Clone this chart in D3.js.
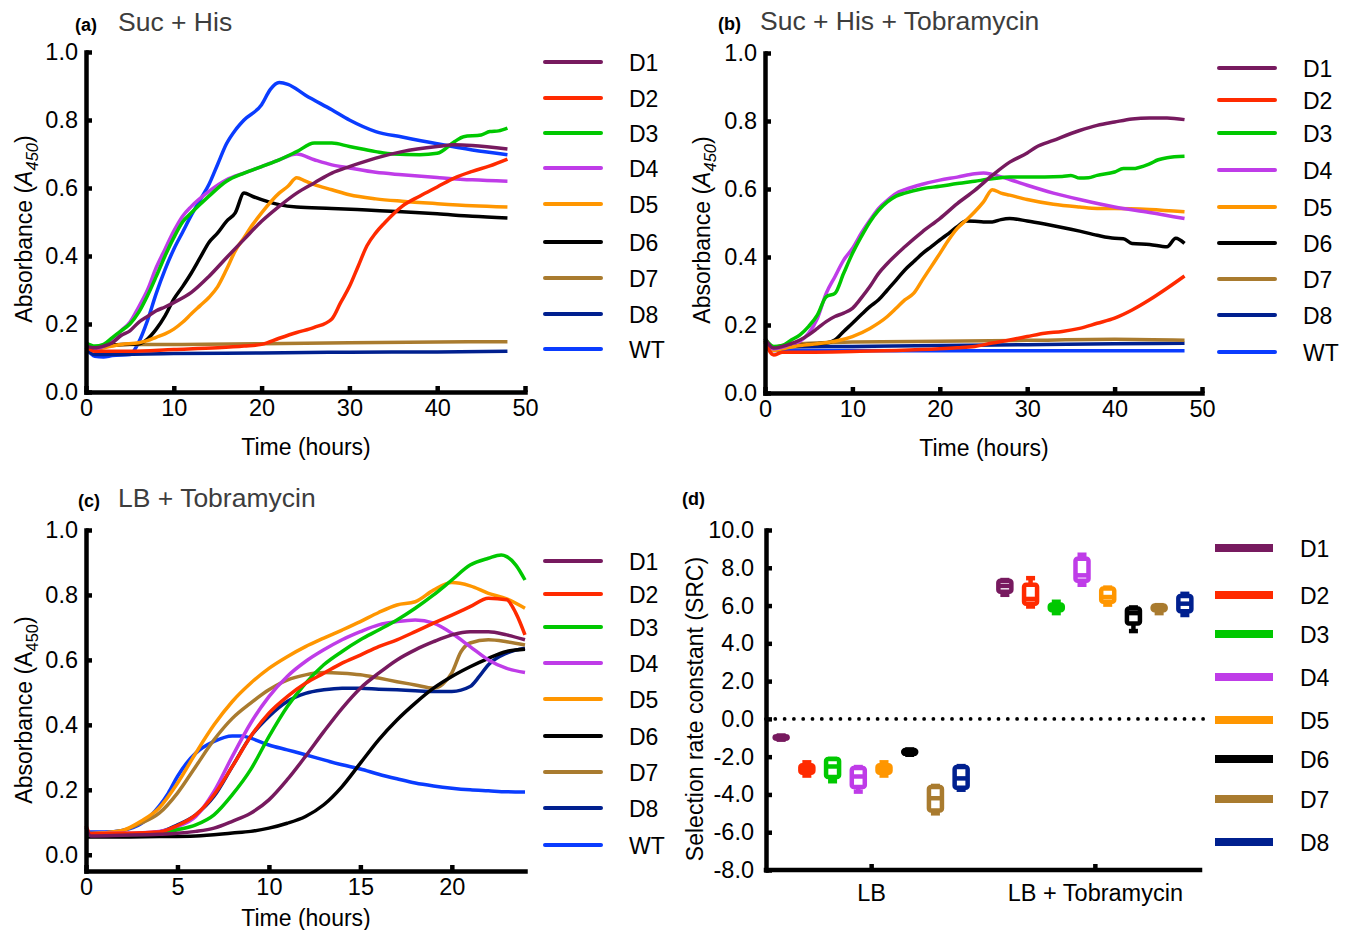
<!DOCTYPE html>
<html>
<head>
<meta charset="utf-8">
<script src="https://cdn.jsdelivr.net/npm/d3@7"></script>
<style>
  body { margin: 0; background: #fff; }
  svg { font-family: "Liberation Sans", Arial, sans-serif; }
</style>
</head>
<body>
<svg id="fig" width="1349" height="930"></svg>
<script>
// strains, in legend order
const strains = ["D1", "D2", "D3", "D4", "D5", "D6", "D7", "D8", "WT"];
const colors = ["#771a5f", "#ff2a00", "#00c800", "#bf3ce8", "#ff9600", "#000000", "#a97b2f", "#00208f", "#0a3cff"];

// (a) Suc + His : [hours, A450] per strain
const sucHis = [
  [[0,.135],[1,.13],[2,.135],[3,.145],[4,.166],[5,.18],[6,.205],[7,.222],[8,.239],[9,.25],[10,.263],[12,.293],[14,.34],[16,.395],[18,.449],[20,.502],[22,.546],[24,.585],[26,.615],[28,.644],[30,.663],[33,.688],[36,.707],[40,.722],[42,.727],[44,.725],[48,.715]],
  [[0,.135],[1,.12],[2,.12],[5,.12],[10,.125],[15,.13],[18,.135],[20,.14],[22,.158],[24,.175],[26,.19],[28,.215],[29,.263],[30,.31],[31,.37],[32,.43],[33,.468],[34,.497],[36,.546],[38,.576],[40,.603],[42,.63],[44,.649],[46,.665],[48,.685]],
  [[0,.145],[1,.135],[2,.14],[3,.16],[4,.18],[5,.2],[6,.234],[7,.283],[8,.34],[9,.4],[10,.454],[11,.5],[12,.527],[14,.576],[16,.62],[18,.644],[20,.663],[22,.683],[24,.707],[26,.732],[28,.732],[30,.722],[33,.707],[35,.7],[38,.698],[40,.702],[42,.737],[43,.751],[45,.756],[46,.766],[47,.768],[48,.776]],
  [[0,.14],[1,.125],[2,.135],[3,.15],[4,.18],[5,.205],[6,.25],[7,.3],[8,.366],[9,.42],[10,.473],[11,.517],[12,.546],[14,.59],[16,.624],[18,.644],[20,.663],[22,.683],[24,.7],[26,.683],[28,.668],[30,.659],[33,.646],[36,.639],[40,.631],[44,.624],[48,.62]],
  [[0,.13],[1,.125],[2,.13],[4,.14],[6,.145],[7,.151],[8,.161],[9,.171],[10,.185],[11,.205],[12,.23],[13,.254],[14,.278],[15,.31],[16,.36],[17,.415],[18,.454],[19,.493],[20,.527],[22,.585],[23,.605],[24,.63],[25,.62],[26,.61],[28,.595],[30,.58],[33,.568],[36,.561],[40,.554],[44,.548],[48,.544]],
  [[0,.14],[1,.13],[2,.135],[4,.14],[6,.141],[7,.156],[8,.185],[9,.224],[10,.273],[11,.31],[12,.35],[13,.395],[14,.44],[15,.468],[16,.502],[17,.527],[18,.585],[19,.575],[20,.566],[22,.551],[24,.544],[28,.54],[32,.535],[36,.53],[40,.524],[44,.517],[48,.512]],
  [[0,.14],[1,.13],[2,.135],[5,.14],[10,.14],[20,.142],[30,.145],[40,.147],[48,.148]],
  [[0,.125],[1,.11],[2,.11],[10,.113],[20,.115],[30,.117],[40,.118],[48,.12]],
  [[0,.13],[1,.105],[2,.103],[3,.107],[5,.11],[6,.146],[7,.21],[8,.29],[9,.36],[10,.42],[11,.47],[12,.52],[13,.565],[14,.61],[15,.67],[16,.73],[17,.77],[18,.8],[20,.845],[21,.89],[22,.91],[23,.905],[25,.873],[28,.83],[30,.8],[33,.766],[36,.75],[40,.73],[44,.712],[48,.698]]
];

// (b) Suc + His + Tobramycin
const sucHisTob = [
  [[0,.16],[1,.132],[2,.137],[3,.145],[4,.156],[5,.171],[6,.19],[7,.21],[8,.225],[9,.235],[10,.249],[11,.279],[12,.313],[13,.352],[14,.381],[16,.43],[18,.474],[20,.513],[22,.557],[24,.596],[26,.64],[28,.679],[30,.706],[31,.723],[33,.743],[36,.772],[38,.787],[40,.797],[42,.806],[44,.809],[46,.809],[48,.804]],
  [[0,.15],[1,.112],[2,.12],[5,.12],[10,.122],[15,.125],[20,.13],[22,.133],[24,.137],[26,.147],[28,.156],[30,.166],[32,.176],[34,.181],[36,.19],[38,.205],[40,.22],[42,.244],[44,.274],[46,.308],[48,.344]],
  [[0,.16],[1,.137],[2,.14],[3,.156],[4,.171],[5,.196],[6,.23],[7,.283],[8,.293],[9,.352],[10,.41],[11,.459],[12,.503],[13,.537],[14,.562],[15,.579],[16,.588],[18,.601],[20,.608],[22,.616],[24,.623],[26,.63],[28,.635],[30,.635],[34,.637],[35,.64],[36,.632],[37,.633],[38,.64],[40,.65],[41,.66],[42,.66],[44,.674],[45,.686],[46,.692],[48,.696]],
  [[0,.16],[1,.13],[2,.135],[3,.145],[4,.152],[5,.176],[6,.22],[7,.293],[8,.342],[9,.391],[10,.425],[11,.469],[12,.508],[13,.543],[14,.567],[15,.587],[16,.598],[18,.614],[20,.626],[22,.635],[24,.645],[25,.647],[26,.643],[28,.628],[30,.611],[33,.588],[36,.569],[40,.547],[44,.531],[48,.513]],
  [[0,.155],[1,.125],[2,.13],[4,.14],[6,.145],[8,.152],[10,.166],[12,.19],[14,.225],[15,.249],[16,.274],[17,.293],[18,.332],[19,.371],[20,.41],[21,.45],[22,.484],[23,.508],[24,.533],[25,.562],[26,.598],[27,.588],[28,.582],[30,.569],[33,.555],[36,.547],[38,.543],[40,.543],[44,.54],[48,.533]],
  [[0,.155],[1,.13],[2,.135],[4,.14],[6,.145],[7,.147],[8,.156],[9,.181],[10,.205],[11,.23],[12,.254],[13,.274],[14,.303],[15,.332],[16,.362],[17,.386],[18,.41],[19,.43],[20,.45],[21,.469],[22,.489],[23,.506],[24,.505],[25,.503],[26,.503],[27,.51],[28,.513],[30,.506],[32,.497],[34,.487],[36,.476],[38,.464],[40,.455],[41,.454],[42,.44],[44,.437],[46,.43],[47,.455],[48,.44]],
  [[0,.155],[1,.135],[2,.14],[4,.145],[10,.15],[20,.152],[30,.155],[40,.158],[48,.155]],
  [[0,.14],[1,.13],[2,.135],[10,.137],[20,.14],[30,.142],[40,.145],[48,.146]],
  [[0,.135],[1,.125],[2,.125],[10,.125],[20,.124],[30,.124],[48,.124]]
];

// (c) LB + Tobramycin
const lbTob = [
  [[0,.085],[0.25,.058],[2,.06],[4,.063],[5,.066],[6,.072],[7,.082],[8,.103],[9,.128],[10,.169],[11,.231],[12,.303],[13,.379],[14,.451],[15,.513],[16,.559],[17,.6],[18,.631],[19,.656],[20,.677],[21,.687],[22,.687],[23,.677],[24,.662]],
  [[0,.09],[0.25,.065],[2,.066],[4,.07],[5,.09],[6,.123],[7,.185],[8,.272],[9,.364],[10,.436],[11,.487],[12,.528],[13,.559],[14,.59],[15,.615],[16,.641],[17,.662],[18,.687],[19,.713],[20,.738],[21,.764],[22,.79],[23,.785],[23.5,.744],[24,.677]],
  [[0,.06],[2,.062],[4,.065],[5,.077],[6,.092],[7,.123],[8,.185],[9,.262],[10,.364],[11,.456],[12,.528],[13,.585],[14,.626],[15,.662],[16,.692],[17,.723],[18,.759],[19,.8],[20,.846],[21,.892],[22,.913],[22.7,.923],[23,.918],[23.5,.892],[24,.846]],
  [[0,.065],[2,.066],[4,.072],[5,.087],[6,.118],[7,.195],[8,.303],[9,.405],[10,.487],[11,.549],[12,.595],[13,.631],[14,.662],[15,.687],[16,.708],[17,.718],[18,.723],[19,.713],[20,.682],[21,.641],[22,.6],[23,.574],[24,.561]],
  [[0,.065],[1,.068],[2,.075],[3,.103],[4,.144],[5,.22],[6,.313],[7,.4],[8,.472],[9,.528],[10,.574],[11,.61],[12,.641],[13,.667],[14,.692],[15,.718],[16,.746],[17,.769],[18,.779],[19,.815],[20,.838],[21,.828],[22,.805],[23,.788],[24,.759]],
  [[0,.055],[2,.055],[4,.056],[6,.058],[8,.067],[9,.072],[10,.082],[11,.097],[12,.118],[13,.154],[14,.21],[15,.282],[16,.354],[17,.415],[18,.467],[19,.513],[20,.549],[21,.579],[22,.605],[23,.626],[24,.633]],
  [[0,.065],[1,.068],[2,.075],[3,.097],[4,.128],[5,.19],[6,.272],[7,.354],[8,.42],[9,.467],[10,.508],[11,.538],[12,.554],[13,.561],[14,.559],[15,.554],[16,.544],[17,.533],[18,.523],[19,.513],[19.5,.525],[20,.56],[20.5,.625],[21,.652],[22,.662],[23,.656],[24,.646]],
  [[0,.06],[2,.062],[4,.07],[5,.092],[6,.123],[7,.18],[8,.272],[9,.364],[10,.426],[11,.472],[12,.497],[13,.508],[14,.513],[15,.513],[16,.51],[17,.508],[18,.505],[19,.503],[20,.503],[21,.518],[21.5,.549],[22,.585],[23,.621],[24,.636]],
  [[0,.07],[1,.07],[2,.075],[3,.095],[4,.15],[4.5,.19],[5,.241],[5.5,.282],[6,.313],[7,.349],[8,.366],[8.5,.366],[9,.359],[10,.338],[11,.323],[12,.308],[13,.292],[14,.277],[15,.264],[16,.248],[17,.234],[18,.221],[19,.212],[20,.205],[21,.2],[22,.197],[23,.194],[24,.193]]
];

// (d) selection rate constant, [min, q1, median, q3, max] for D1..D8
const groups = ["LB", "LB + Tobramycin"];
const boxLB = [
  [-1.1, -1.05, -1.0, -0.92, -0.88],
  [-3.0, -2.85, -2.65, -2.45, -2.3],
  [-3.3, -3.07, -2.52, -2.12, -2.12],
  [-3.85, -3.6, -3.05, -2.6, -2.55],
  [-3.0, -2.85, -2.65, -2.45, -2.3],
  [-1.9, -1.85, -1.75, -1.65, -1.62],
  [-5.0, -4.85, -4.2, -3.6, -3.55],
  [-3.75, -3.65, -3.15, -2.55, -2.5]
];
const boxTob = [
  [6.57, 6.73, 7.04, 7.31, 7.35],
  [5.95, 6.1, 6.35, 7.1, 7.45],
  [5.6, 5.75, 5.9, 6.05, 6.2],
  [7.1, 7.31, 7.6, 8.48, 8.69],
  [6.05, 6.2, 6.45, 6.9, 6.95],
  [4.65, 5.05, 5.6, 5.85, 5.9],
  [5.6, 5.75, 5.85, 6.0, 6.02],
  [5.5, 5.7, 6.1, 6.5, 6.62]
];

const svg = d3.select("#fig");
const AXW = 4.5;

function styleAxis(sel) {
  sel.attr("font-size", null).attr("font-family", null);
  sel.selectAll("path, line").attr("stroke", "#000").attr("stroke-width", AXW);
  sel.select(".domain").attr("stroke-linecap", "square");
  sel.selectAll("text").attr("fill", "#000").style("font-size", "23.5px");
}

function heading(x, y, tag, title, gap) {
  const t = svg.append("text").attr("x", x).attr("y", y);
  t.append("tspan").attr("font-weight", "bold").attr("font-size", 18).text(tag);
  if (title) t.append("tspan").attr("dx", gap).attr("font-size", 26.5).attr("fill", "#3d3d3d").text(title);
}

function yTitle(x, y, italic) {
  const t = svg.append("text")
    .attr("transform", `translate(${x},${y}) rotate(-90)`)
    .attr("text-anchor", "middle").attr("font-size", 23);
  t.append("tspan").text("Absorbance (");
  t.append("tspan").attr("font-style", italic ? "italic" : null).text("A");
  t.append("tspan").attr("font-style", italic ? "italic" : null).attr("font-size", 16.5).attr("dy", 6).text("450");
  t.append("tspan").attr("dy", -6).text(")");
}

function linePanel(o) {
  const g = svg.append("g");
  const line = d3.line().x(d => o.x(d[0])).y(d => o.y(d[1])).curve(d3.curveMonotoneX);

  // draw WT first so D1 sits on top
  const order = d3.range(strains.length).reverse();
  g.selectAll("path.curve").data(order).join("path")
    .attr("class", "curve")
    .attr("d", i => line(o.data[i]))
    .attr("fill", "none")
    .attr("stroke", i => colors[i])
    .attr("stroke-width", 3.5)
    .attr("stroke-linejoin", "round");

  g.append("g")
    .attr("transform", `translate(0,${o.y.range()[0]})`)
    .call(d3.axisBottom(o.x).tickValues(o.xTicks).tickSize(-6).tickSizeOuter(0).tickPadding(7).tickFormat(d3.format("d")))
    .call(styleAxis);
  g.append("g")
    .attr("transform", `translate(${o.x.range()[0]},0)`)
    .call(d3.axisLeft(o.y).tickValues([0, .2, .4, .6, .8, 1]).tickSize(-6).tickSizeOuter(0).tickPadding(8).tickFormat(d => d.toFixed(1)))
    .call(styleAxis);

  svg.append("text").attr("x", o.xTitle[0]).attr("y", o.xTitle[1])
    .attr("text-anchor", "middle").attr("font-size", 23).text("Time (hours)");
  yTitle(o.yTitle[0], o.yTitle[1], o.italic);

  const lg = svg.append("g");
  lg.selectAll("line").data(strains).join("line")
    .attr("x1", o.legX).attr("x2", o.legX + 56)
    .attr("y1", (d, i) => o.legY[i]).attr("y2", (d, i) => o.legY[i])
    .attr("stroke", (d, i) => colors[i]).attr("stroke-width", 4).attr("stroke-linecap", "round");
  lg.selectAll("text").data(strains).join("text")
    .attr("x", o.legX + 84).attr("y", (d, i) => o.legY[i] + 8.5)
    .attr("font-size", 23).text(d => d);
}

linePanel({
  data: sucHis,
  x: d3.scaleLinear([0, 50], [86, 525]),
  y: d3.scaleLinear([0, 1], [392, 52]),
  xTicks: [0, 10, 20, 30, 40, 50],
  xTitle: [306, 455], yTitle: [32, 229], italic: true,
  legX: 545, legY: [62, 98, 133, 168, 204, 242, 278, 314, 349]
});
linePanel({
  data: sucHisTob,
  x: d3.scaleLinear([0, 50], [765, 1202]),
  y: d3.scaleLinear([0, 1], [393, 53]),
  xTicks: [0, 10, 20, 30, 40, 50],
  xTitle: [984, 456], yTitle: [710, 230], italic: true,
  legX: 1219, legY: [68, 100, 133, 170, 207, 243, 279, 315, 352]
});
linePanel({
  data: lbTob,
  x: d3.scaleLinear([0, 24], [86, 525]),
  y: d3.scaleLinear([-0.05, 1], [871, 530]),
  xTicks: [0, 5, 10, 15, 20],
  xTitle: [306, 926], yTitle: [32, 710], italic: false,
  legX: 545, legY: [561, 594, 627, 663, 699, 736, 772, 808, 845]
});

heading(75, 31, "(a)", "Suc + His", 21);
heading(718, 30, "(b)", "Suc + His + Tobramycin", 19);
heading(78, 507, "(c)", "LB + Tobramycin", 18);
heading(682, 505, "(d)", null, 0);

// (d) box plots
const yd = d3.scaleLinear([-8, 10], [870, 530]);
const xg = d3.scalePoint(groups, [766, 1200]).padding(0.47);
const xs = d3.scalePoint(strains.slice(0, 8), [-90, 90]);
const gd = svg.append("g");

gd.append("line")
  .attr("x1", 766).attr("x2", 1205).attr("y1", yd(0)).attr("y2", yd(0))
  .attr("stroke", "#000").attr("stroke-width", 3.8)
  .attr("stroke-linecap", "round").attr("stroke-dasharray", "0,9.3");

const boxes = [];
boxLB.forEach((b, i) => boxes.push({ g: groups[0], i, b }));
boxTob.forEach((b, i) => boxes.push({ g: groups[1], i, b }));

const bw = 13, cw = 9, sw = 4.5;
const bx = gd.selectAll("g.box").data(boxes).join("g")
  .attr("class", "box")
  .attr("transform", d => `translate(${xg(d.g) + xs(strains[d.i])},0)`)
  .attr("stroke", d => colors[d.i]).attr("stroke-width", sw);
bx.append("line").attr("y1", d => yd(d.b[0])).attr("y2", d => yd(d.b[4]));
bx.append("line").attr("x1", -cw / 2).attr("x2", cw / 2).attr("y1", d => yd(d.b[0])).attr("y2", d => yd(d.b[0]));
bx.append("line").attr("x1", -cw / 2).attr("x2", cw / 2).attr("y1", d => yd(d.b[4])).attr("y2", d => yd(d.b[4]));
bx.append("rect")
  .attr("x", -bw / 2).attr("width", bw)
  .attr("y", d => yd(d.b[3])).attr("height", d => yd(d.b[1]) - yd(d.b[3]))
  .attr("rx", 2).attr("fill", "#fff");
bx.append("line").attr("x1", -bw / 2).attr("x2", bw / 2).attr("y1", d => yd(d.b[2])).attr("y2", d => yd(d.b[2]));

gd.append("g")
  .attr("transform", `translate(0,${yd(-8)})`)
  .call(d3.axisBottom(xg).tickSize(-6).tickSizeOuter(0).tickPadding(14))
  .call(styleAxis)
  .call(s => s.select(".domain").attr("d", `M766,0H1200`));
gd.append("g")
  .attr("transform", "translate(766,0)")
  .call(d3.axisLeft(yd).tickValues(d3.range(-8, 11, 2)).tickSize(-6).tickSizeOuter(0).tickPadding(12).tickFormat(d => d.toFixed(1)))
  .call(styleAxis);

svg.append("text")
  .attr("transform", "translate(703,709) rotate(-90)")
  .attr("text-anchor", "middle").attr("font-size", 23)
  .text("Selection rate constant (SRC)");

const legD = [548, 595, 634, 677, 720, 759, 799, 842];
svg.append("g").selectAll("rect").data(legD).join("rect")
  .attr("x", 1215).attr("width", 58).attr("y", d => d - 4).attr("height", 8)
  .attr("fill", (d, i) => colors[i]);
svg.append("g").selectAll("text").data(legD).join("text")
  .attr("x", 1300).attr("y", d => d + 8.5).attr("font-size", 23)
  .text((d, i) => strains[i]);
</script>
</body>
</html>
